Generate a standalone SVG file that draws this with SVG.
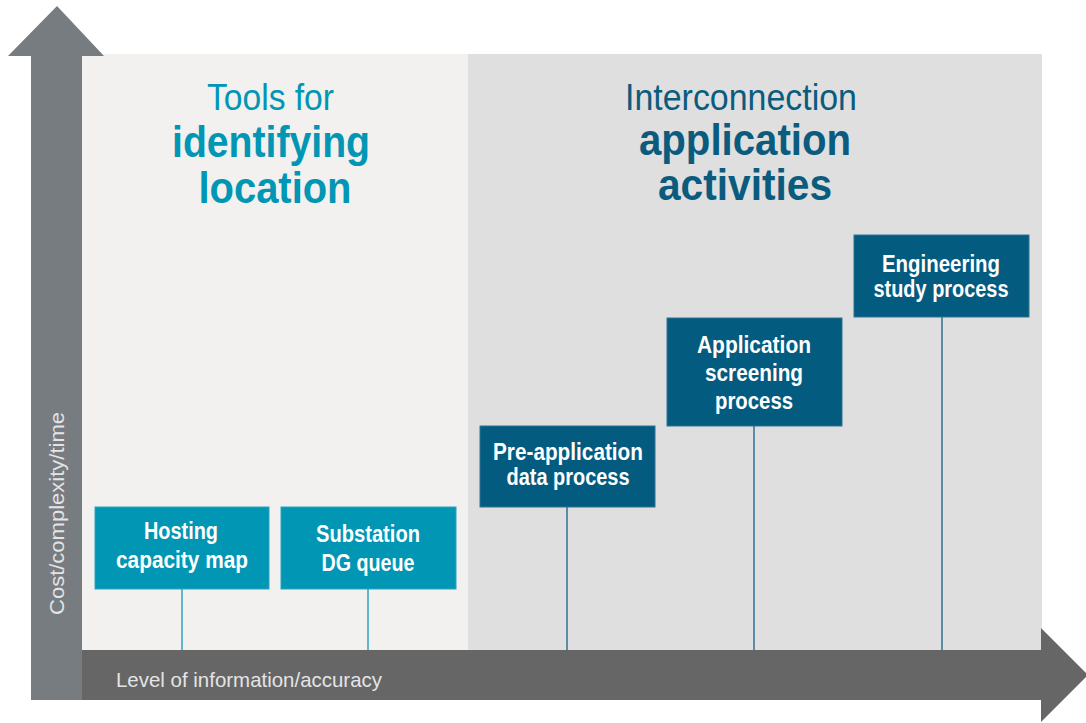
<svg xmlns="http://www.w3.org/2000/svg" width="1086" height="723" viewBox="0 0 1086 723">
<style>
.bg{fill:#ffffff}
.pl{fill:#f2f1ef}
.pr{fill:#dfdfdf}
.varrow{fill:#777c80}
.harrow{fill:#666666}
.axis{font-family:"Liberation Sans",Arial,sans-serif;font-size:21px;fill:#e4e4e4}
.tl{font-family:"Liberation Sans",Arial,sans-serif;font-size:36px;fill:#0096b4;text-anchor:middle}
.tlb{font-family:"Liberation Sans",Arial,sans-serif;font-size:44px;font-weight:bold;fill:#0096b4;text-anchor:middle}
.tr{font-family:"Liberation Sans",Arial,sans-serif;font-size:36px;fill:#0b5b7e;text-anchor:middle}
.trb{font-family:"Liberation Sans",Arial,sans-serif;font-size:44px;font-weight:bold;fill:#0b5b7e;text-anchor:middle}
.boxL{fill:#0096b4;stroke:#2aa6c0;stroke-width:1}
.boxR{fill:#035b7f;stroke:#2e7593;stroke-width:1}
.bt{font-family:"Liberation Sans",Arial,sans-serif;font-size:23px;font-weight:bold;fill:#ffffff;text-anchor:middle}
.cL{stroke:#62b6cb;stroke-width:2;fill:none}
.cR{stroke:#5b8ea4;stroke-width:2;fill:none}
</style>
<rect class="bg" x="0" y="0" width="1086" height="723"/>
<g id="panels">
<rect class="pl" x="82" y="54" width="386" height="596"/>
<rect class="pr" x="468" y="54" width="574" height="596"/>
</g>
<g id="titles">
<text class="tl" x="270.5" y="110" textLength="127" lengthAdjust="spacingAndGlyphs">Tools for</text>
<text class="tlb" x="271" y="157" textLength="198" lengthAdjust="spacingAndGlyphs">identifying</text>
<text class="tlb" x="275" y="203" textLength="153" lengthAdjust="spacingAndGlyphs">location</text>
<text class="tr" x="741" y="110" textLength="232" lengthAdjust="spacingAndGlyphs">Interconnection</text>
<text class="trb" x="745" y="155" textLength="212" lengthAdjust="spacingAndGlyphs">application</text>
<text class="trb" x="745" y="200" textLength="174" lengthAdjust="spacingAndGlyphs">activities</text>
</g>
<g id="axes">
<polygon class="harrow" points="82,650 1041,650 1041,628 1088,675 1041,722 1041,700 82,700"/>
<polygon class="varrow" points="31,700 31,56 8,56 57,6 104,56 82,56 82,700"/>
<text class="axis" x="116" y="687" textLength="266" lengthAdjust="spacingAndGlyphs">Level of information/accuracy</text>
<text class="axis" transform="translate(64,615) rotate(-90)" textLength="203" lengthAdjust="spacingAndGlyphs">Cost/complexity/time</text>
</g>
<g id="connectors">
<line class="cL" x1="182" y1="589" x2="182" y2="650"/>
<line class="cL" x1="368" y1="589" x2="368" y2="650"/>
<line class="cR" x1="567" y1="507" x2="567" y2="650"/>
<line class="cR" x1="754" y1="426" x2="754" y2="650"/>
<line class="cR" x1="942" y1="317" x2="942" y2="650"/>
</g>
<g id="hosting">
<rect class="boxL" x="95" y="507" width="174" height="82"/>
<text class="bt" x="181" y="539" textLength="74" lengthAdjust="spacingAndGlyphs">Hosting</text>
<text class="bt" x="182" y="568" textLength="132" lengthAdjust="spacingAndGlyphs">capacity map</text>
</g>
<g id="substation">
<rect class="boxL" x="281" y="507" width="175" height="82"/>
<text class="bt" x="368" y="542" textLength="104" lengthAdjust="spacingAndGlyphs">Substation</text>
<text class="bt" x="368" y="571" textLength="93" lengthAdjust="spacingAndGlyphs">DG queue</text>
</g>
<g id="preapp">
<rect class="boxR" x="480" y="426" width="175" height="81"/>
<text class="bt" x="568" y="460" textLength="150" lengthAdjust="spacingAndGlyphs">Pre-application</text>
<text class="bt" x="568" y="485" textLength="123" lengthAdjust="spacingAndGlyphs">data process</text>
</g>
<g id="screening">
<rect class="boxR" x="667" y="318" width="175" height="108"/>
<text class="bt" x="754" y="353" textLength="114" lengthAdjust="spacingAndGlyphs">Application</text>
<text class="bt" x="754" y="381" textLength="98" lengthAdjust="spacingAndGlyphs">screening</text>
<text class="bt" x="754" y="409" textLength="78" lengthAdjust="spacingAndGlyphs">process</text>
</g>
<g id="engineering">
<rect class="boxR" x="854" y="235" width="175" height="82"/>
<text class="bt" x="941" y="272" textLength="118" lengthAdjust="spacingAndGlyphs">Engineering</text>
<text class="bt" x="941" y="297" textLength="135" lengthAdjust="spacingAndGlyphs">study process</text>
</g>
</svg>
